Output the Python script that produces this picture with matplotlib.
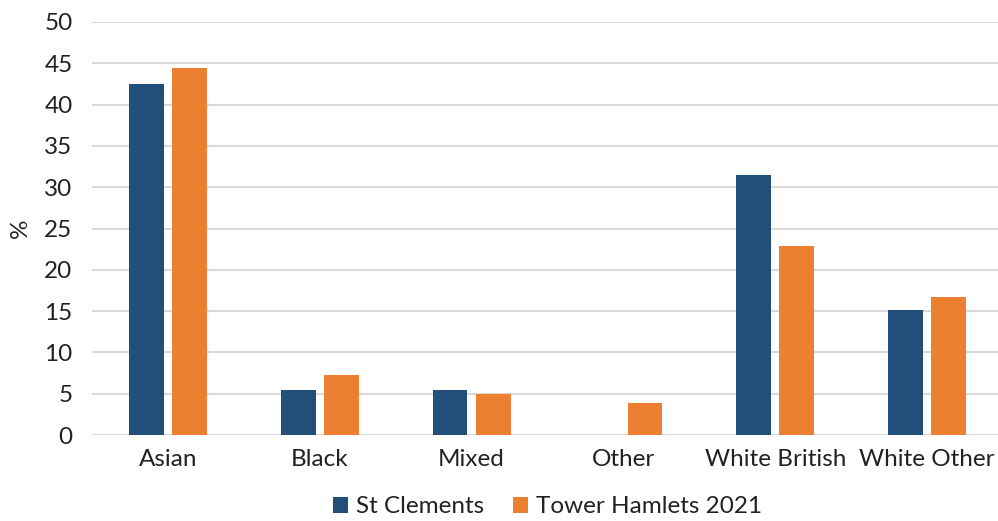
import numpy as np
import matplotlib.pyplot as plt

plt.rcParams['font.family'] = ['Lato', 'DejaVu Sans']

categories = ['Asian', 'Black', 'Mixed', 'Other', 'White British', 'White Other']
st_clements = [42.5, 5.4, 5.4, 0, 31.5, 15.1]
tower_hamlets = [44.4, 7.3, 5.0, 3.9, 22.9, 16.7]

navy = '#214F79'
orange = '#ED7F31'
fs = 17.5

fig = plt.figure(figsize=(9.98, 5.21), dpi=100)
ax = fig.add_axes([92/998, 1 - 435/521, 911/998, 413/521])

x = np.arange(len(categories))
w = 0.23
ax.bar(x - 0.142, st_clements, w, color=navy, label='St Clements', zorder=3)
ax.bar(x + 0.142, tower_hamlets, w, color=orange, label='Tower Hamlets 2021', zorder=3)

ax.set_xlim(-0.5, len(categories) - 0.5)
ax.set_ylim(0, 50)
ax.set_yticks(np.arange(0, 51, 5))
ax.set_xticks(x)
ax.set_xticklabels(categories)
ax.yaxis.grid(True, color='#D9D9D9', linewidth=1.5, zorder=0)
ax.tick_params(length=0, labelsize=fs, colors='#222222')
ax.tick_params(axis='x', pad=10)
ax.tick_params(axis='y', pad=14)
for s in ax.spines.values():
    s.set_visible(False)
ax.set_ylabel('%', fontsize=fs, color='#222222', labelpad=10)

ax.legend(loc='center', bbox_to_anchor=(0.5, -0.174), ncol=2, frameon=False,
          fontsize=fs, handlelength=0.6, handleheight=0.6, handletextpad=0.33,
          columnspacing=1.2, labelcolor='#222222')

fig.savefig('out.png', dpi=100)
